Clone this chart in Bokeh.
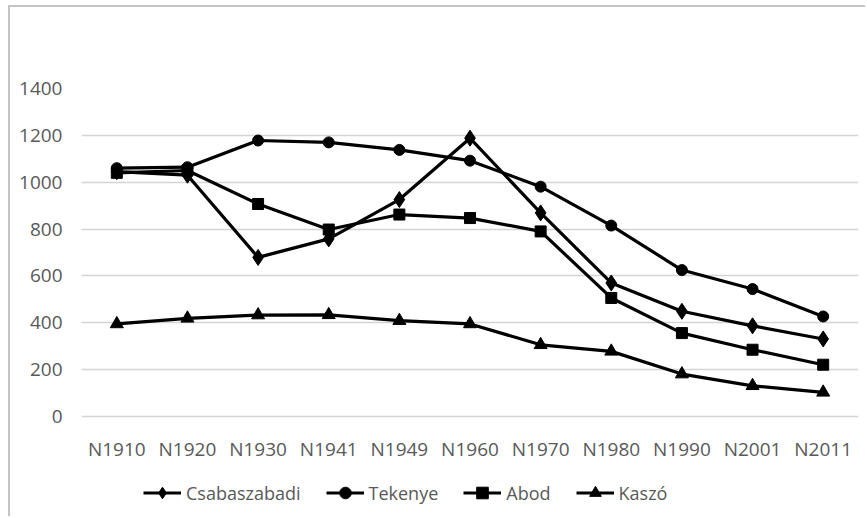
from bokeh.plotting import figure
from bokeh.models import Range1d, FactorRange, FixedTicker, Legend, LegendItem
from bokeh.embed import file_html
from bokeh.resources import INLINE

categories = ["N1910", "N1920", "N1930", "N1941", "N1949", "N1960",
              "N1970", "N1980", "N1990", "N2001", "N2011"]
csabaszabadi = [1045, 1030, 679, 758, 926, 1188, 869, 570, 449, 387, 331]
tekenye = [1060, 1064, 1178, 1170, 1138, 1092, 981, 815, 625, 544, 427]
abod = [1040, 1050, 907, 798, 862, 847, 790, 506, 356, 285, 221]
kaszo = [395, 419, 433, 434, 409, 395, 306, 278, 181, 131, 103]
y_ticks = [0, 200, 400, 600, 800, 1000, 1200, 1400]

FONT = "Open Sans"
TXT = "#595959"

# frame extends down to hold the legend; value 0 sits at the former frame bottom
p = figure(x_range=FactorRange(*categories, range_padding=0),
           y_range=Range1d(-392.7, 1400),
           width=857, height=511, output_backend="svg", toolbar_location=None,
           min_border_left=71, min_border_right=9, min_border_top=81, min_border_bottom=10,
           styles={"border-left": "2px solid #c4c4c4", "border-top": "2px solid #c4c4c4",
                   "margin-left": "8px", "margin-top": "5px"})
p.outline_line_color = None
p.background_fill_color = "white"
p.border_fill_color = "white"

p.xgrid.grid_line_color = None
p.ygrid.grid_line_color = "#d4d4d4"
p.ygrid.grid_line_width = 1.5
p.yaxis.ticker = FixedTicker(ticks=y_ticks)

for ax in (p.xaxis[0], p.yaxis[0]):
    ax.axis_line_color = None
    ax.major_tick_line_color = None
    ax.minor_tick_line_color = None
    ax.major_label_text_font = FONT
    ax.major_label_text_font_size = "19px"
    ax.major_label_text_color = TXT
p.yaxis.major_label_standoff = 13
p.xaxis.major_label_standoff = -79

LW = 3.2
r1 = p.line(categories, csabaszabadi, line_color="black", line_width=LW)
m1 = p.scatter(categories, csabaszabadi, marker="diamond", size=16, color="black")
r2 = p.line(categories, tekenye, line_color="black", line_width=LW)
m2 = p.scatter(categories, tekenye, marker="circle", size=11, color="black")
r3 = p.line(categories, abod, line_color="black", line_width=LW)
m3 = p.scatter(categories, abod, marker="square", size=11, color="black")
r4 = p.line(categories, kaszo, line_color="black", line_width=LW)
m4 = p.scatter(categories, kaszo, marker="triangle", size=13, color="black")

legend = Legend(items=[
    LegendItem(label="Csabaszabadi", renderers=[r1, m1]),
    LegendItem(label="Tekenye", renderers=[r2, m2]),
    LegendItem(label="Abod", renderers=[r3, m3]),
    LegendItem(label="Kaszó", renderers=[r4, m4]),
], orientation="horizontal", location=(62, 1))
legend.border_line_color = None
legend.background_fill_alpha = 0
legend.padding = 0
legend.margin = 0
legend.spacing = 25
legend.glyph_width = 38
legend.glyph_height = 29
legend.label_standoff = 5
legend.label_text_font = FONT
legend.label_text_font_size = "18px"
legend.label_text_color = TXT
p.add_layout(legend, "center")

open("out.html", "w").write(file_html(p, INLINE))
